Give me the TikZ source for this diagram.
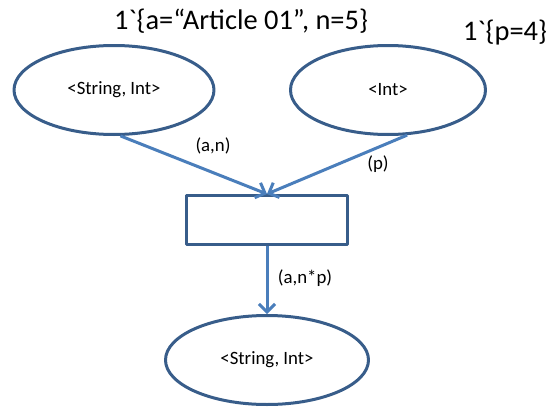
\documentclass[tikz,border=0pt]{standalone}
\usepackage{fontspec}
\setmainfont{Carlito}[Ligatures=TeXOff]
\usetikzlibrary{shapes.geometric,arrows.meta}
\definecolor{placeblue}{HTML}{385D8A}
\definecolor{arcblue}{HTML}{4A7EBB}
\begin{document}
\begin{tikzpicture}[x=1pt,y=-1pt,>={Straight Barb[length=8pt,width=16pt]},line join=round,font=\fontsize{18.8}{20}\selectfont,
	place/.style={ellipse,draw=placeblue,line width=3pt,minimum width=200pt,minimum height=89pt,inner sep=0pt},
	trans/.style={rectangle,draw=placeblue,line width=3pt,minimum width=161pt,minimum height=49pt,inner sep=0pt},
	arc/.style={->,draw=arcblue,line width=3pt},
	marking/.style={font=\fontsize{28.4}{30}\selectfont}]
	\useasboundingbox (0,0) rectangle (550,410);
	\node[place] (L) at (114,90) {<String, Int>};
	\node[place,minimum width=195pt] (R) at (388,90) {<Int>};
	\node[trans] (T) at (267,220) {};
	\node[place,minimum width=203pt] (B) at (267,360) {<String, Int>};
	% markings
	\node[marking] (mL) at (241,21) {1`\{a=“Article 01”, n=5\}};
	\node[marking] (mR) at (505,33) {1`\{p=4\}};
	% arcs
	\draw[arc] (L.-82) -- (T.north);
	\draw[arc] (R.-67) -- (T.north);
	\draw[arc] (T.south) -- (B.north);
	\foreach \n/\p/\t in {iL/{(213,146)}/{(a,n)},iR/{(378,164)}/{(p)},oB/{(305,278)}/{(a,n*p)}}
	\node (\n) at \p {\t};
\end{tikzpicture}
\end{document}
